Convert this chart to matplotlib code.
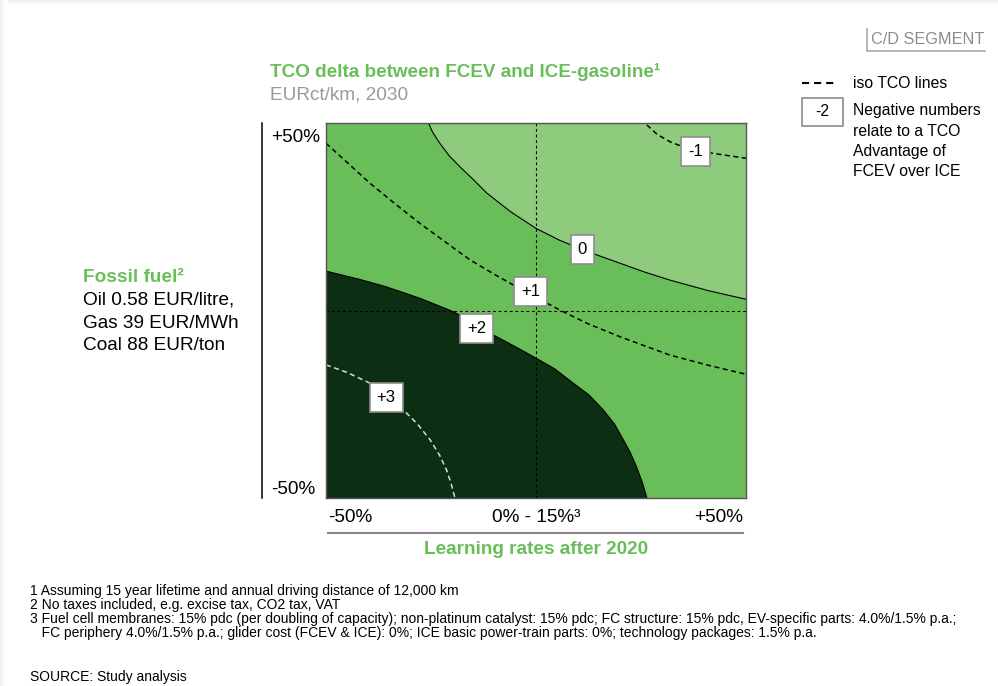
import matplotlib
matplotlib.use("Agg")
import matplotlib.pyplot as plt
from matplotlib.patches import Rectangle
from matplotlib.lines import Line2D

plt.rcParams['font.family'] = ['Liberation Sans', 'DejaVu Sans']

# x = change in learning rates after 2020 (%), y = change in fossil fuel price (%)
# solid border, TCO delta = 0
zero_x = [-25.6, -24.6, -22.9, -20.7, -18.1, -15.0, -11.7, -6.0, 0.0, 5.5, 11.3, 20.0,
          26.0, 31.9, 41.0, 50.0]
zero_y = [50.0, 47.5, 44.6, 41.3, 38.3, 35.0, 31.3, 26.3, 21.9, 18.8, 16.1, 12.6,
          10.2, 8.1, 5.3, 3.0]
# solid border, TCO delta = +2
plus2_x = [-50.0, -42.0, -35.6, -27.5, -19.7, -15.0, -10.2, -5.0, 0.0, 4.5, 8.9, 12.7,
           16.0, 18.7, 20.8, 22.5, 23.9, 25.3, 26.4]
plus2_y = [10.5, 8.3, 6.3, 3.2, -0.3, -3.2, -6.5, -9.6, -12.7, -15.6, -19.4, -22.6,
           -26.5, -30.3, -34.5, -38.0, -41.6, -45.8, -50.0]
# dashed iso lines
plus1_x = [-50.0, -44.5, -39.5, -33.5, -27.6, -21.5, -15.7, -10.0, -4.6, 5.7, 12.5, 20.0,
           31.9, 41.0, 50.0]
plus1_y = [44.6, 39.0, 33.9, 28.4, 23.2, 18.2, 13.5, 9.7, 6.3, 0.1, -3.6, -7.0,
           -11.9, -14.6, -17.0]
minus1_x = [26.4, 28.8, 31.9, 36.0, 42.2, 50.0]
minus1_y = [49.5, 47.0, 45.0, 43.2, 41.9, 40.6]
plus3_x = [-50.0, -45.0, -39.5, -35.5, -31.6, -28.2, -25.2, -23.0, -21.3, -20.2, -19.3]
plus3_y = [-14.5, -16.5, -19.4, -22.6, -26.5, -30.3, -34.5, -38.5, -42.5, -46.2, -50.0]

box_text = ['-1', '0', '+1', '+2', '+3']
box_x = [37.9, 11.0, -1.2, -14.1, -35.7]
box_y = [42.3, 16.3, 5.2, -4.7, -23.1]

footnotes = [
    "1 Assuming 15 year lifetime and annual driving distance of 12,000 km",
    "2 No taxes included, e.g. excise tax, CO2 tax, VAT",
    "3 Fuel cell membranes: 15% pdc (per doubling of capacity); non-platinum catalyst: 15% pdc; "
    "FC structure: 15% pdc, EV-specific parts: 4.0%/1.5% p.a.;",
    "   FC periphery 4.0%/1.5% p.a.; glider cost (FCEV & ICE): 0%; ICE basic power-train parts: 0%; "
    "technology packages: 1.5% p.a.",
]

LIGHT = '#8fcb7d'
MID = '#6abe59'
DARK = '#0c2e12'
GREEN_TXT = '#6abe59'
GREY = '#999999'

W, H = 998, 686
fig = plt.figure(figsize=(W / 100, H / 100), dpi=100)


def fx(px):
    return px / W


def fy(py):
    return 1 - py / H


# card shadow on left / top
for i, a in enumerate([0.10, 0.08, 0.06, 0.04, 0.03, 0.02, 0.01, 0.005]):
    fig.patches.append(Rectangle((fx(i), 0), 1 / W, 1, transform=fig.transFigure,
                                 color='#a8b4b4', alpha=a * 2, lw=0))
for i, a in enumerate([0.10, 0.07, 0.05, 0.03, 0.015]):
    fig.patches.append(Rectangle((fx(8), fy(i + 1)), 1, 1 / H, transform=fig.transFigure,
                                 color='#a8b4b4', alpha=a * 2, lw=0))

ax = fig.add_axes([fx(326), fy(498), 420 / W, 375 / H])
ax.set_xlim(-50, 50)
ax.set_ylim(-50, 50)
ax.set_facecolor(MID)
ax.fill(zero_x + [50], zero_y + [50], color=LIGHT, lw=0)
ax.fill(plus2_x + [-50], plus2_y + [-50], color=DARK, lw=0)

ax.axvline(0, color='black', lw=0.8, dashes=(2.5, 2.5))
ax.axhline(0, color='black', lw=0.8, dashes=(2.5, 2.5))

ax.plot(zero_x, zero_y, color='black', lw=0.8)
ax.plot(plus2_x, plus2_y, color='black', lw=0.8)
ax.plot(plus1_x, plus1_y, color='black', lw=1.1, dashes=(3.3, 2.3))
ax.plot(minus1_x, minus1_y, color='black', lw=1.1, dashes=(3.3, 2.3))
ax.plot(plus3_x, plus3_y, color='#d4dcd4', lw=1.1, dashes=(3.3, 2.3))

for t, x, y in zip(box_text, box_x, box_y):
    ax.text(x, y, t, fontsize=12, ha='center', va='center', zorder=5,
            bbox=dict(boxstyle='square,pad=0.42', fc='white', ec='#8c8c8c', lw=1.2))

ax.set_xticks([])
ax.set_yticks([])
for s in ax.spines.values():
    s.set_color('#555555')
    s.set_linewidth(1.0)

# titles
fig.text(fx(270), fy(72), "TCO delta between FCEV and ICE-gasoline\u00b9", fontsize=13.6,
         fontweight='bold', color=GREEN_TXT, va='center')
fig.text(fx(270), fy(95), "EURct/km, 2030", fontsize=13.7, color=GREY, va='center')

# y side
fig.add_artist(Line2D([fx(262), fx(262)], [fy(123), fy(498)], color='black', lw=1.1))
fig.text(fx(320), fy(137), "+50%", fontsize=13.7, ha='right', va='center')
fig.text(fx(315), fy(490), "-50%", fontsize=13.7, ha='right', va='center')
fig.text(fx(83), fy(277), "Fossil fuel\u00b2", fontsize=13.7, fontweight='bold',
         color=GREEN_TXT, va='center')
for i, s in enumerate(["Oil 0.58 EUR/litre,", "Gas 39 EUR/MWh", "Coal 88 EUR/ton"]):
    fig.text(fx(83), fy(300 + 23 * i), s, fontsize=13.7, va='center')

# x side
fig.text(fx(328), fy(518), "-50%", fontsize=13.7, va='center')
fig.text(fx(536), fy(518), "0% - 15%\u00b3", fontsize=13.7, ha='center', va='center')
fig.text(fx(743), fy(518), "+50%", fontsize=13.7, ha='right', va='center')
fig.add_artist(Line2D([fx(328), fx(743)], [fy(533), fy(533)], color='#888888', lw=1.5))
fig.text(fx(536), fy(550), "Learning rates after 2020", fontsize=13.7, fontweight='bold',
         color=GREEN_TXT, ha='center', va='center')

# segment tag and legend
fig.text(fx(871), fy(39), "C/D SEGMENT", fontsize=11.7, color='#8c8c8c', va='center')
fig.add_artist(Line2D([fx(867), fx(867)], [fy(29), fy(51)], color='#aaaaaa', lw=1.2))
fig.add_artist(Line2D([fx(867), fx(985)], [fy(51), fy(51)], color='#aaaaaa', lw=1.2))

fig.add_artist(Line2D([fx(802), fx(836)], [fy(83), fy(83)], color='black', lw=1.5,
                      dashes=(3.4, 2.4)))
fig.text(fx(853), fy(83), "iso TCO lines", fontsize=11.3, va='center')
fig.patches.append(Rectangle((fx(802), fy(126)), 41 / W, 28 / H, transform=fig.transFigure,
                             fc='white', ec='#8c8c8c', lw=1.2))
fig.text(fx(822.5), fy(112), "-2", fontsize=11.3, ha='center', va='center')
for i, s in enumerate(["Negative numbers", "relate to a TCO", "Advantage of", "FCEV over ICE"]):
    fig.text(fx(853), fy(111 + 20.3 * i), s, fontsize=11.3, va='center')

# footnotes
for i, s in enumerate(footnotes):
    fig.text(fx(30), fy(591 + 14 * i), s, fontsize=10, va='center')
fig.text(fx(30), fy(677), "SOURCE: Study analysis", fontsize=10, va='center')

fig.savefig("out.png", dpi=100)
